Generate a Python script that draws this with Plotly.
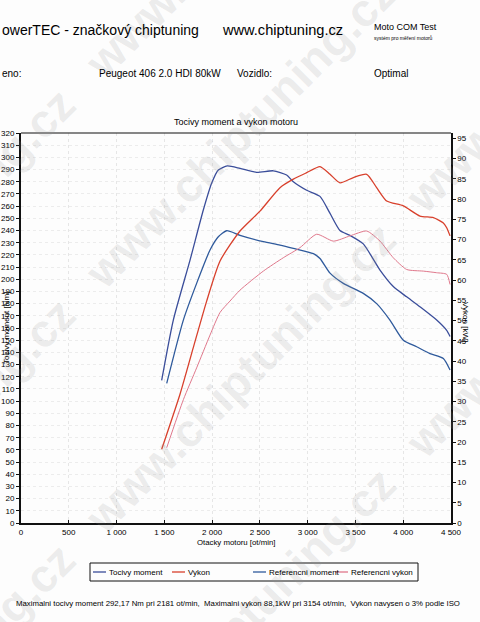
import plotly.graph_objects as go

# otacky [ot/min] a hodnoty
rpm_moment = [1472, 1594, 1769, 1908, 1995, 2065, 2159, 2292, 2466, 2640, 2780, 2850, 2990,
              3129, 3234, 3338, 3443, 3582, 3757, 3896, 4036, 4175, 4350, 4455, 4490]
moment = [117, 166.5, 215.7, 256.8, 278.7, 289.6, 293, 291, 287.7, 289, 285.5, 280, 273,
          268, 254, 240, 236, 229, 207.5, 194, 185.6, 177.4, 166.5, 158, 153]

rpm_vykon = [1472, 1664, 1803, 1943, 2083, 2292, 2501, 2710, 2850, 2990, 3129, 3234, 3338,
             3478, 3618, 3722, 3827, 4001, 4175, 4315, 4420, 4455, 4490]
vykon = [18.2, 31.8, 43.3, 54.8, 64.7, 72.1, 77, 82.8, 84.9, 86.5, 88, 86.1, 84,
         85.3, 86.1, 82.8, 79.5, 78.3, 75.8, 75.4, 74.1, 72.9, 70.9]

rpm_ref_moment = [1525, 1699, 1838, 1978, 2065, 2152, 2292, 2536, 2710, 2850, 3059, 3129,
                  3234, 3373, 3582, 3722, 3861, 4001, 4141, 4280, 4420, 4490]
ref_moment = [114.6, 166.5, 196.6, 224, 234.9, 239.8, 236, 230.8, 228, 225.3, 221, 217,
              205, 196.6, 188.4, 180, 166.5, 150, 144.6, 139, 135, 125.5]

rpm_ref_vykon = [1525, 1700, 1838, 1978, 2083, 2187, 2292, 2536, 2745, 2920, 3094, 3269,
                 3443, 3618, 3757, 3896, 4036, 4210, 4350, 4455, 4490]
ref_vykon = [18.6, 30.5, 38.3, 46.4, 52, 54.8, 57.5, 62.2, 65.5, 68, 71.3, 69.6,
             70.9, 72.1, 69.6, 65.5, 62.6, 62.2, 61.8, 61.4, 58.9]

names = ["Tocivy moment", "Vykon", "Referencni moment", "Referencni vykon"]
colors = ["#3a4d9a", "#d8402c", "#2f5a9c", "#e0788c"]

FONT = "Liberation Sans, Arial, sans-serif"
W, H = 480, 622
L, R, T, B = 21, 451, 133, 523   # plocha grafu v px


def px(x, y):
    """pixely stranky -> paper souradnice"""
    return (x - L) / (R - L), (B - y) / (B - T)


fig = go.Figure()
fig.add_trace(go.Scatter(x=rpm_moment, y=moment, name=names[0], mode="lines",
                         line=dict(color=colors[0], width=1.3, shape="spline", smoothing=0.6)))
fig.add_trace(go.Scatter(x=rpm_vykon, y=vykon, name=names[1], mode="lines", yaxis="y2",
                         line=dict(color=colors[1], width=1.3, shape="spline", smoothing=0.6)))
fig.add_trace(go.Scatter(x=rpm_ref_moment, y=ref_moment, name=names[2], mode="lines",
                         line=dict(color=colors[2], width=1.3, shape="spline", smoothing=0.6)))
fig.add_trace(go.Scatter(x=rpm_ref_vykon, y=ref_vykon, name=names[3], mode="lines", yaxis="y2",
                         line=dict(color=colors[3], width=1, shape="spline", smoothing=0.6)))

ann = []


def text(x, y, s, size, anchor="left", angle=0, color="#000", yanchor="middle", weight="normal"):
    xp, yp = px(x, y)
    ann.append(dict(x=xp, y=yp, xref="paper", yref="paper", text=s, showarrow=False,
                    xanchor=anchor, yanchor=yanchor, textangle=angle,
                    font=dict(family=FONT, size=size, color=color, weight=weight)))


# vodoznak - sikme rady textu
wm = "www.chiptuning.cz   www.chiptuning.cz   www.chiptuning.cz"
for y0 in [-150, 90, 300, 545, 790]:
    text(240, y0 - 167, wm, 46, anchor="center", angle=-45,
         color="rgba(150,150,150,0.18)", weight="bold")

# hlavicka
text(0, 30, "owerTEC - značkový chiptuning", 14)
text(220, 30, "www.chiptuning.cz", 14.6)
text(372, 27, "Moto COM Test", 9)
text(372, 38, "systém pro měření motorů", 5)
text(0, 73, "eno:", 10)
text(97, 73, "Peugeot 406 2.0 HDI 80kW", 10)
text(235, 73, "Vozidlo:", 10)
text(372, 73, "Optimal", 10)
text(236, 122, "Tocivy moment a vykon motoru", 9, anchor="center")
text(6, 328, "Tocivy moment [Nm]", 8, anchor="center", angle=-90)
text(466, 322, "Vykon [kW]", 8, anchor="center", angle=90)
text(236, 542, "Otacky motoru [ot/min]", 7.8, anchor="center")
text(238, 603, "Maximalni tocivy moment 292,17 Nm pri 2181 ot/min,  Maximalni vykon 88,1kW pri "
     "3154 ot/min,  Vykon navysen o 3% podle ISO", 7.8, anchor="center")

# legenda
shapes = []
x0, y0 = px(90, 563)
x1, y1 = px(418, 581)
shapes.append(dict(type="rect", xref="paper", yref="paper", x0=x0, y0=y0, x1=x1, y1=y1,
                   line=dict(color="#111", width=1)))
for lx, name, c in zip([93, 172, 253, 335], names, colors):
    a, yy = px(lx, 572)
    b, _ = px(lx + 13, 572)
    shapes.append(dict(type="line", xref="paper", yref="paper", x0=a, x1=b, y0=yy, y1=yy,
                       line=dict(color=c, width=1.3)))
    text(lx + 14, 572, name, 8)

# horni okraj grafu
shapes.append(dict(type="line", xref="paper", yref="paper", x0=0, x1=1, y0=1, y1=1,
                   line=dict(color="#111", width=1.2)))

fig.update_layout(
    width=W, height=H,
    margin=dict(l=L, r=W - R, t=T, b=H - B, autoexpand=False),
    paper_bgcolor="#fdfdfd", plot_bgcolor="rgba(0,0,0,0)",
    showlegend=False,
    separators=", ",
    font=dict(family=FONT, size=8, color="#000"),
    annotations=ann, shapes=shapes,
    xaxis=dict(range=[0, 4500], dtick=500, tickformat=",d", showline=True, linecolor="#111",
               linewidth=2, ticks="inside", ticklen=3, tickcolor="#111", automargin=False,
               showgrid=True, gridcolor="#e6e6e6", griddash="dot", zeroline=False,
               tickfont=dict(size=8), ticklabelstandoff=0),
    yaxis=dict(range=[0, 320], dtick=10, showline=True, linecolor="#111", linewidth=2,
               ticks="outside", ticklen=3, tickcolor="#111", showgrid=True, automargin=False,
               gridcolor="#ececec", griddash="dot", zeroline=False,
               tickfont=dict(size=8), ticklabelstandoff=0),
    yaxis2=dict(range=[0, 96.3], dtick=5, overlaying="y", side="right", showline=True,
                linecolor="#111", linewidth=1.5, ticks="outside", ticklen=3, tickcolor="#111",
                showgrid=False, zeroline=False, automargin=False,
                tickfont=dict(size=8), ticklabelstandoff=0),
)

# stranka bez okraju, aby graf zacinal v levem hornim rohu okna
fig.write_html("out.html", config={"displayModeBar": False},
               post_script="document.body.style.margin='0';")
